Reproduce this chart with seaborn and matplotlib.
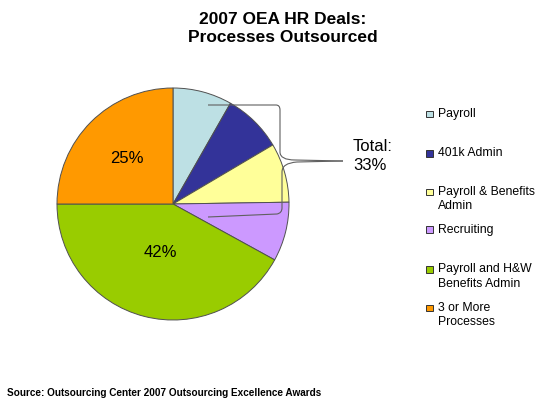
import numpy as np
import matplotlib
matplotlib.use("Agg")
import matplotlib.pyplot as plt
from matplotlib.path import Path
from matplotlib.patches import PathPatch, Rectangle
import seaborn as sns

# ---- data ----
categories = ["Payroll", "401k Admin", "Payroll & Benefits\nAdmin", "Recruiting",
              "Payroll and H&W\nBenefits Admin", "3 or More\nProcesses"]
shares = [8.25, 8.25, 8.25, 8.25, 42, 25]
colors = ["#BDE0E4", "#333399", "#FFFF99", "#CC99FF", "#99CC00", "#FF9900"]
labelled = [False, False, False, False, True, True]
title_lines = ["2007 OEA HR Deals:", "Processes Outsourced"]
source_text = "Source: Outsourcing Center 2007 Outsourcing Excellence Awards"

sns.set_theme(style="white")
plt.rcParams["font.family"] = ["Liberation Sans", "DejaVu Sans"]
plt.rcParams["text.color"] = "black"

W, H = 550, 407
fig = plt.figure(figsize=(W / 100, H / 100), dpi=100)
fig.patch.set_facecolor("white")

cx, cy, r = 173, 204, 116
ax = fig.add_axes([(cx - r) / W, (H - cy - r) / H, 2 * r / W, 2 * r / H])
wedges, _ = ax.pie(shares, colors=colors, startangle=90, counterclock=False,
                   radius=1, wedgeprops=dict(edgecolor="#505050", linewidth=0.7))
ax.set_xlim(-1, 1)
ax.set_ylim(-1, 1)
ax.set_aspect("equal")
ax.axis("off")

# percentage labels on big slices
dists = {4: 0.43, 5: 0.56}
for i, (w, v, lab) in enumerate(zip(wedges, shares, labelled)):
    if not lab:
        continue
    ang = np.deg2rad((w.theta1 + w.theta2) / 2)
    d = dists.get(i, 0.5)
    ax.text(d * np.cos(ang), d * np.sin(ang), f"{v:.0f}%", ha="center", va="center",
            fontsize=12, color="black")

# bracket around the four small slices
def px(x, y):
    return ((x - cx) / r, (cy - y) / r)

verts = [px(208, 105), px(276, 105), px(280, 105), px(280, 110),
         px(280, 152), px(280, 160), px(295, 160), px(343, 161)]
codes = [Path.MOVETO, Path.LINETO, Path.CURVE3, Path.CURVE3,
         Path.LINETO, Path.CURVE3, Path.CURVE3, Path.LINETO]
ax.add_patch(PathPatch(Path(verts, codes), fill=False, edgecolor="#606060",
                       lw=0.8, clip_on=False))
verts2 = [px(208, 217), px(277, 214), px(282, 213), px(282, 208),
          px(282, 172), px(282, 163), px(297, 162), px(343, 161)]
ax.add_patch(PathPatch(Path(verts2, codes), fill=False, edgecolor="#606060",
                       lw=0.8, clip_on=False))
total_small = sum(s for s, l in zip(shares, labelled) if not l)
fig.text(353 / W, 1 - 150.7 / H, "Total:", fontsize=12, va="baseline", ha="left",
         color="black")
fig.text(353 / W, 1 - 170 / H, f"{total_small:.0f}%", fontsize=12, va="baseline",
         ha="left", color="black")

# title
fig.text(283 / W, 1 - 24 / H, title_lines[0], fontsize=12.5, fontweight="bold",
         ha="center", va="baseline", color="black")
fig.text(283 / W, 1 - 41.7 / H, title_lines[1], fontsize=12.5, fontweight="bold",
         ha="center", va="baseline", color="black")

# legend (manual placement)
first_baselines = [117, 156.5, 195, 232.5, 272.3, 311]
line_step = 14.3
for name, col, b in zip(categories, colors, first_baselines):
    fig.patches.append(Rectangle((426 / W, 1 - 117.3 / H + (117 - b) / H), 7 / W, 6.5 / H,
                                 transform=fig.transFigure, facecolor=col,
                                 edgecolor="#333333", linewidth=0.7))
    for k, line in enumerate(name.split("\n")):
        fig.text(438 / W, 1 - (b + k * line_step) / H, line, fontsize=8.8,
                 ha="left", va="baseline", color="black")

# source
fig.text(7 / W, 1 - 396.5 / H, source_text, fontsize=7.2, fontweight="bold",
         ha="left", va="baseline", color="black")

fig.savefig("out.png", dpi=100, facecolor="white")
